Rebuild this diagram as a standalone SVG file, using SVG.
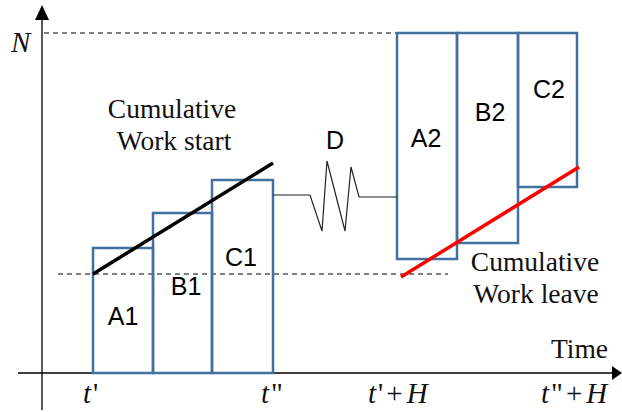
<svg xmlns="http://www.w3.org/2000/svg" width="622" height="412" viewBox="0 0 622 412">
<defs>
<style>
.bar{fill:none;stroke:#41719C;stroke-width:2.5}
.ax{stroke:#000;stroke-width:1.3;fill:none}
.dash{stroke:#000;stroke-width:1;stroke-dasharray:5,4;fill:none}
.lbl{font-family:"Liberation Sans",Arial,sans-serif;font-size:25px;fill:#000;text-anchor:middle}
.ser{font-family:"Liberation Serif","Times New Roman",serif;font-size:27.5px;fill:#111}
.it{font-style:italic}
</style>
</defs>
<rect width="622" height="412" fill="#fff"/>
<g id="axes">
<path class="ax" d="M42,410 V20"/>
<path d="M35,20 L42,5 L49,20 z" fill="#000"/>
<path class="ax" d="M18,373 H612"/>
<path d="M612,366 L622,373 L612,380 z" fill="#000"/>
<text class="ser it" x="11" y="52" style="font-size:29px">N</text>
<text class="ser" x="608" y="358" text-anchor="end">Time</text>
<text class="ser" x="83" y="403" style="font-size:29px"><tspan class="it">t</tspan><tspan dx="2">'</tspan></text>
<text class="ser" x="261" y="403" style="font-size:29px"><tspan class="it">t</tspan><tspan dx="2">"</tspan></text>
<text class="ser" x="368" y="403" style="font-size:29px"><tspan class="it">t</tspan><tspan dx="2">'</tspan><tspan dx="3">+</tspan><tspan class="it" dx="4">H</tspan></text>
<text class="ser" x="541" y="403" style="font-size:29px"><tspan class="it">t</tspan><tspan dx="2">"</tspan><tspan dx="3">+</tspan><tspan class="it" dx="4">H</tspan></text>
</g>
<g id="guides">
<path class="dash" d="M44,33 H397"/>
<path class="dash" d="M58,274 H448"/>
</g>
<g id="A1"><rect class="bar" x="93" y="248" width="60" height="125"/><text class="lbl" x="123" y="325">A1</text></g>
<g id="B1"><rect class="bar" x="153" y="213" width="59" height="160"/><text class="lbl" x="186" y="295">B1</text></g>
<g id="C1"><rect class="bar" x="212" y="180" width="61" height="193"/><text class="lbl" x="241" y="266">C1</text></g>
<g id="A2"><rect class="bar" x="397" y="33" width="60" height="226"/><text class="lbl" x="426" y="147">A2</text></g>
<g id="B2"><rect class="bar" x="457" y="33" width="61" height="210"/><text class="lbl" x="490" y="121">B2</text></g>
<g id="C2"><rect class="bar" x="518" y="33" width="59" height="154"/><text class="lbl" x="549" y="98">C2</text></g>
<g id="D">
<text class="lbl" x="335" y="149">D</text>
</g>
<g id="connectors">
<path d="M273,195 H310 L322,231 L327,161 L345,231 L351,167 L359,197 H397" fill="none" stroke="#222" stroke-width="1.2"/>
<path d="M93,274 L273,163" stroke="#000" stroke-width="3.5"/>
<path d="M401,277 L579,167" stroke="#FF0000" stroke-width="3.5"/>
</g>
<g id="labels">
<text class="ser" x="172" y="118" text-anchor="middle">Cumulative</text>
<text class="ser" x="174" y="150" text-anchor="middle">Work start</text>
<text class="ser" x="535" y="271" text-anchor="middle">Cumulative</text>
<text class="ser" x="536" y="303" text-anchor="middle">Work leave</text>
</g>
</svg>
